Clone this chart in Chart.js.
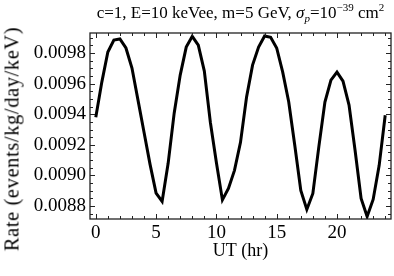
<!DOCTYPE html>
<html>
<head>
<meta charset="utf-8">
<script src="https://cdn.jsdelivr.net/npm/chart.js@4/dist/chart.umd.min.js"></script>
<style>
  html, body { margin: 0; padding: 0; background: #fff; }
  #wrap { position: relative; width: 394px; height: 276px; }
  #title { position: absolute; left: 90px; width: 301px; top: 3px; text-align: center;
           font-family: "Liberation Serif", "Times New Roman", serif; font-size: 17px; color: #000; white-space: nowrap; }
  #title sub, #title sup { font-size: 11px; line-height: 0; }
  #ytitle { position: absolute; left: 12px; top: 139px; width: 0; height: 0; }
  #ytitle span { position: absolute; left: 0; top: 0; transform: translate(-50%, -50%) rotate(-90deg);
           font-family: "Liberation Serif", "Times New Roman", serif; font-size: 20.5px; letter-spacing: 0.6px; color: #000; white-space: nowrap; }
</style>
</head>
<body>
<div id="wrap">
  <canvas id="c" width="394" height="276"></canvas>
  <div id="title">c=1, E=10 keVee, m=5 GeV, <i>σ</i><sub><i>p</i></sub>=10<sup>−39</sup> cm<sup>2</sup></div>
  <div id="ytitle"><span>Rate (events/kg/day/keV)</span></div>
</div>
<script>
// Universal time (hr)
const hours = [0,0.5,1,1.5,2,2.5,3,3.5,4,4.5,5,5.5,6,6.5,7,7.5,8,8.5,9,9.5,10,10.5,11,11.5,12,
  12.5,13,13.5,14,14.5,15,15.5,16,16.5,17,17.5,18,18.5,19,19.5,20,20.5,21,21.5,22,22.5,23,23.5,24];
// Rate (events/kg/day/keV)
const rate = [0.009380,0.009610,0.009807,0.009885,0.009892,0.009833,0.009702,0.009492,0.009282,0.009072,
  0.008884,0.008830,0.009079,0.009407,0.009656,0.009839,0.009909,0.009852,0.009682,0.009348,
  0.009085,0.008840,0.008915,0.009033,0.009216,0.009511,0.009721,0.009839,0.009911,0.009903,
  0.009833,0.009675,0.009480,0.009197,0.008902,0.008777,0.008882,0.009190,0.009479,0.009623,
  0.009675,0.009616,0.009460,0.009164,0.008849,0.008731,0.008843,0.009066,0.009393];
const xTicks = [0,5,10,15,20];
const yTicks = [0.0088,0.0090,0.0092,0.0094,0.0096,0.0098];

const FONT = '"Liberation Serif", "Times New Roman", serif';

const framePlugin = {
  id: 'frameTicks',
  afterDraw(chart) {
    const {ctx, chartArea: a, scales: {x, y}} = chart;
    ctx.save();
    ctx.strokeStyle = '#222';
    ctx.lineWidth = 1;
    ctx.beginPath();
    for (let v = 0; v <= 24; v += 1) {
      const px = Math.round(x.getPixelForValue(v)) + 0.5;
      const len = (v % 5 === 0) ? 5 : 3;
      ctx.moveTo(px, a.bottom); ctx.lineTo(px, a.bottom - len);
      ctx.moveTo(px, a.top); ctx.lineTo(px, a.top + len);
    }
    for (let k = 0; k < 40; k++) {
      const v = 0.0087 + k * 0.00005;
      if (v > y.max) break;
      if (v < y.min) continue;
      const py = Math.round(y.getPixelForValue(v)) + 0.5;
      const len = (k % 4 === 2) ? 5 : 3;
      ctx.moveTo(a.left, py); ctx.lineTo(a.left + len, py);
      ctx.moveTo(a.right, py); ctx.lineTo(a.right - len, py);
    }
    ctx.stroke();
    ctx.lineWidth = 1.3;
    ctx.strokeRect(a.left, a.top, a.right - a.left, a.bottom - a.top);
    ctx.restore();
  }
};

new Chart(document.getElementById('c'), {
  type: 'line',
  data: {
    datasets: [{
      data: hours.map((h, i) => ({x: h, y: rate[i]})),
      borderColor: '#000',
      borderWidth: 3,
      pointRadius: 0,
      tension: 0,
      fill: false
    }]
  },
  options: {
    responsive: false,
    animation: false,
    layout: { padding: { left: 0, right: 3, top: 33, bottom: 0 } },
    plugins: { legend: { display: false }, tooltip: { enabled: false } },
    scales: {
      x: {
        type: 'linear', min: -0.48, max: 24.48,
        afterBuildTicks: s => { s.ticks = xTicks.map(v => ({value: v})); },
        afterFit: s => { s.height = 57; },
        grid: { display: false, drawTicks: false },
        border: { display: false },
        ticks: { color: '#000', font: { family: FONT, size: 19 }, padding: 3, maxRotation: 0, callback: v => String(v) },
        title: { display: true, text: 'UT (hr)', color: '#000', font: { family: FONT, size: 18 }, padding: { top: 1, bottom: 14 } }
      },
      y: {
        type: 'linear', min: 0.008715, max: 0.009931,
        afterBuildTicks: s => { s.ticks = yTicks.map(v => ({value: v})); },
        afterFit: s => { s.width = 90; },
        grid: { display: false, drawTicks: false },
        border: { display: false },
        ticks: { color: '#000', font: { family: FONT, size: 19 }, padding: 4, callback: v => v.toFixed(4) },
        title: { display: false }
      }
    }
  },
  plugins: [framePlugin]
});
</script>
</body>
</html>
